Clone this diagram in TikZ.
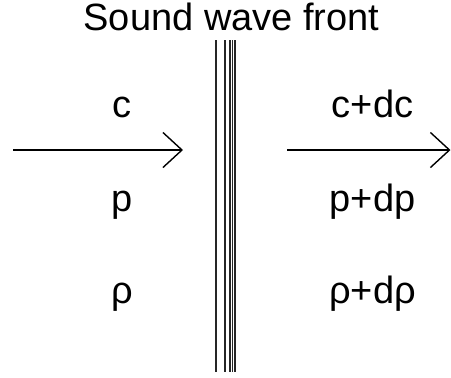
\documentclass[tikz,border=0pt]{standalone}
\usepackage{fontspec}
\setmainfont{Liberation Sans}
\usetikzlibrary{arrows.meta}

\tikzset{
  lbl/.style={anchor=base, inner sep=0pt, font=\fontsize{19}{23}\selectfont},
  front/.style={line width=0.6pt, black!85}
}

\begin{document}
\begin{tikzpicture}[x=0.5pt, y=-0.5pt, >={Straight Barb[length=9.5pt,width=17.5pt]}]
  \useasboundingbox (0,0) rectangle (451,377);

  % Wave front
  \foreach \xf in {216,225,230,232.5,235}
    \draw[front] (\xf,40) -- (\xf,372);
  \node[lbl] (title) at (231.5,30) {Sound wave front};

  % Flow ahead of and behind the front
  \coordinate (inA) at (13,150);
  \coordinate (inB) at (183,150);
  \coordinate (outA) at (287,150);
  \coordinate (outB) at (450.5,150);
  \draw[->, line width=0.7pt] (inA) -- (inB);
  \draw[->, line width=0.7pt] (outA) -- (outB);

  \node[lbl] (c0) at (122,117) {c};
  \node[lbl] (p0) at (122,211) {p};
  \node[lbl] (r0) at (122,303) {ρ};
  \node[lbl] (c1) at (372.5,117) {c+dc};
  \node[lbl] (p1) at (372.5,211) {p+dp};
  \node[lbl] (r1) at (372.5,303) {ρ+dρ};
\end{tikzpicture}
\end{document}
